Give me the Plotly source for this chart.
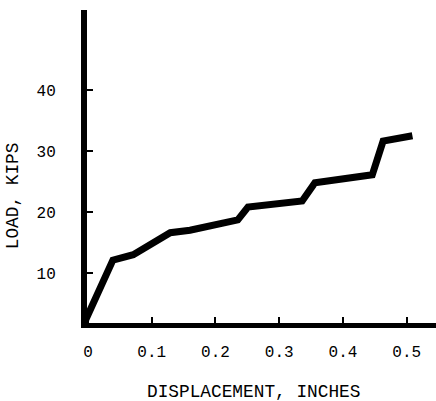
import plotly.graph_objects as go

# Data
displacement_in = [-0.005, 0.039, 0.071, 0.129, 0.160, 0.235, 0.251, 0.336, 0.356, 0.446, 0.463, 0.509]
load_kips = [2.0, 12.1, 13.0, 16.6, 17.0, 18.7, 20.8, 21.8, 24.8, 26.1, 31.6, 32.5]

x_tick_vals = [0, 0.1, 0.2, 0.3, 0.4, 0.5]
x_tick_text = ["0", "0.1", "0.2", "0.3", "0.4", "0.5"]
y_tick_vals = [10, 20, 30, 40]
y_tick_text = ["10", "20", "30", "40"]
x_title = "DISPLACEMENT, INCHES"
y_title = "LOAD, KIPS"

FONT = "Liberation Mono"

fig = go.Figure()
fig.add_trace(go.Scatter(
    x=displacement_in, y=load_kips, mode="lines",
    line=dict(color="black", width=7),
    showlegend=False, hoverinfo="skip",
))

fig.update_layout(
    width=436, height=401,
    margin=dict(l=87, r=0, t=10, b=78, autoexpand=False),
    paper_bgcolor="white", plot_bgcolor="white",
    font=dict(family=FONT, color="black", size=16),
    xaxis=dict(
        range=[-0.0016, 0.546], automargin=False,
        tickvals=x_tick_vals, ticktext=x_tick_text,
        showline=True, linecolor="black", linewidth=5,
        ticks="inside", ticklen=6, tickwidth=1.5, tickcolor="black",
        showgrid=False, zeroline=False,
        tickfont=dict(family=FONT, size=16),
        ticklabelstandoff=10,
    ),
    yaxis=dict(
        range=[1.8, 53.1], automargin=False,
        tickvals=y_tick_vals, ticktext=y_tick_text,
        showline=True, linecolor="black", linewidth=6,
        ticks="inside", ticklen=6, tickwidth=1.5, tickcolor="black",
        showgrid=False, zeroline=False,
        tickfont=dict(family=FONT, size=16),
        ticklabelstandoff=22,
    ),
    annotations=[
        dict(text=x_title, xref="paper", yref="paper", x=0.4785, y=-0.2204,
             xanchor="center", yanchor="middle", showarrow=False,
             font=dict(family=FONT, size=17.8, color="black")),
        dict(text=y_title, xref="paper", yref="paper", x=-0.212, y=0.405,
             xanchor="center", yanchor="middle", textangle=-90, showarrow=False,
             font=dict(family=FONT, size=17.8, color="black")),
    ],
)

fig.write_html("out.html", config={"displayModeBar": False},
               post_script="document.body.style.margin='0';")
